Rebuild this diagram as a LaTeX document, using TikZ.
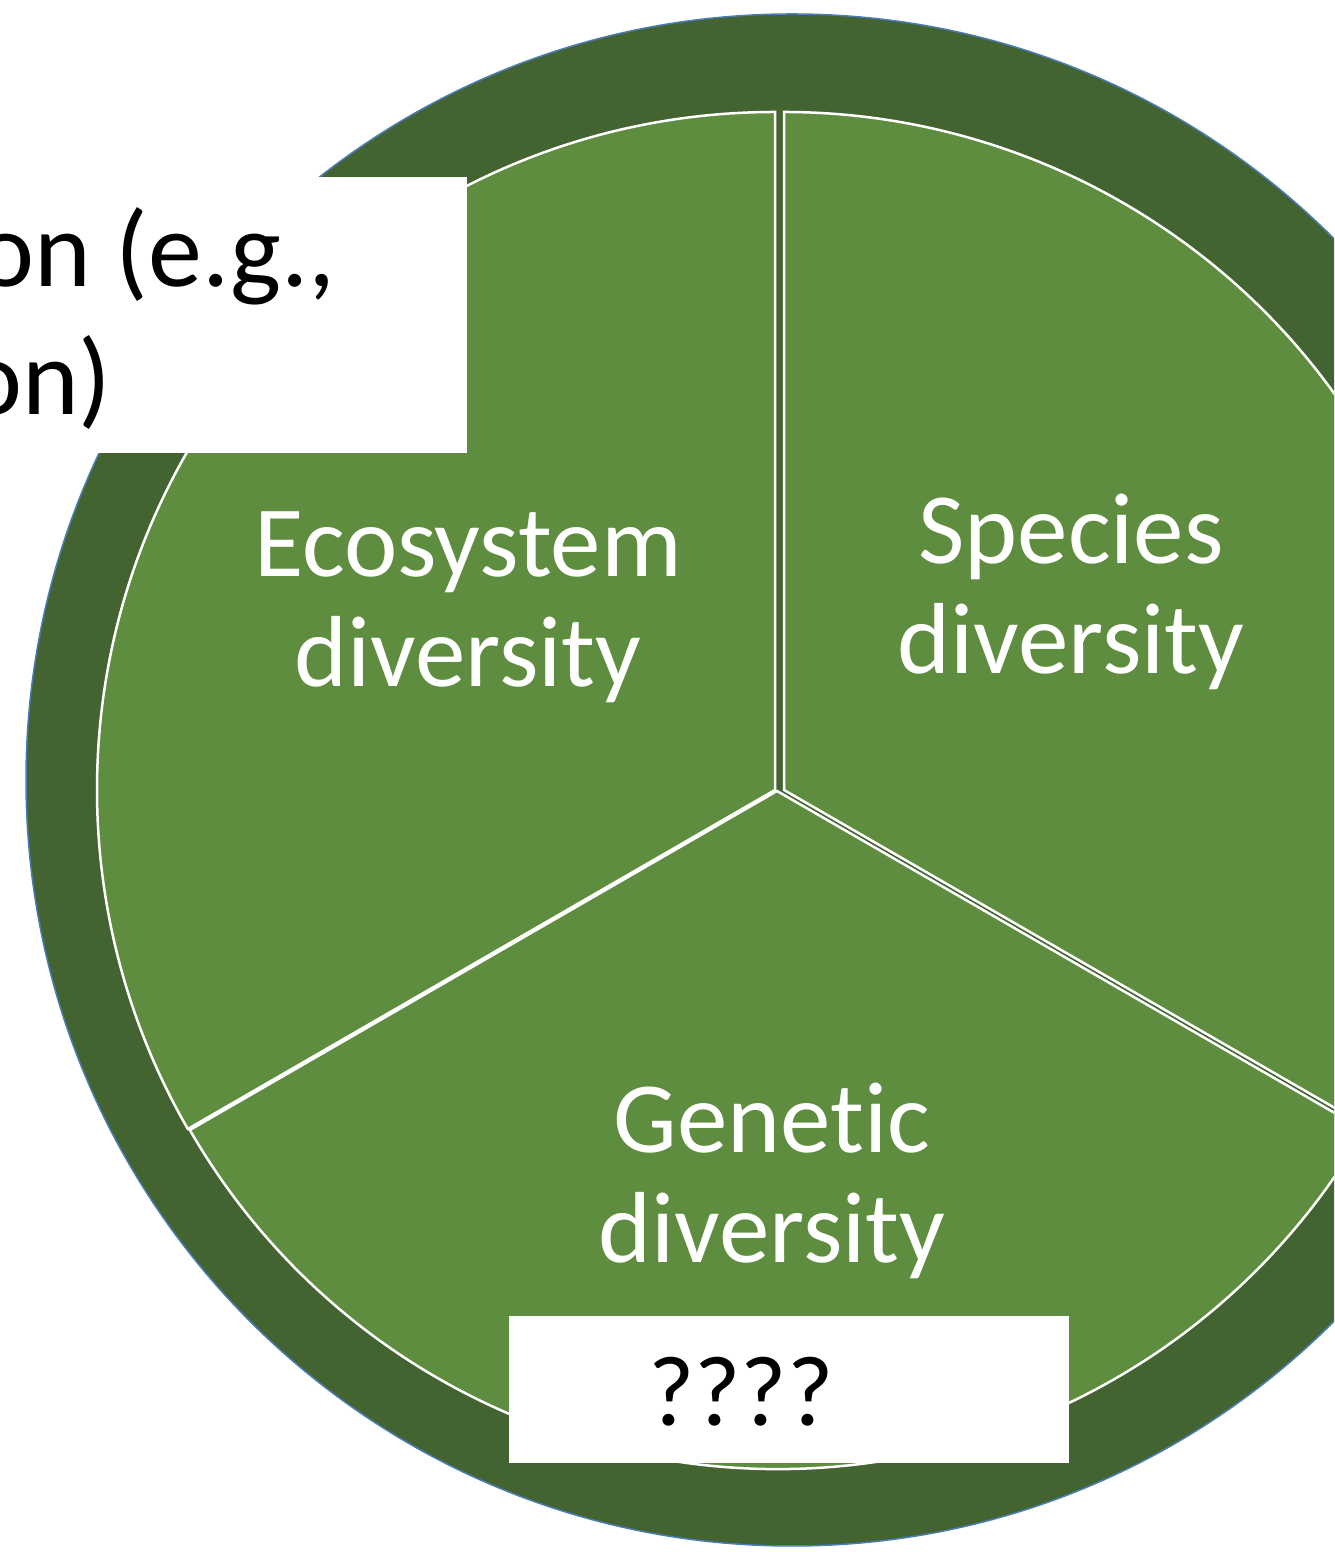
\documentclass[tikz,border=0pt]{standalone}
\usepackage{fontspec}
\setmainfont{Carlito}[Ligatures=NoCommon]
\usetikzlibrary{positioning}
\definecolor{ringgreen}{HTML}{436331}
\definecolor{slicegreen}{HTML}{5F8D3F}
\definecolor{ringedge}{HTML}{4A7DB5}
\tikzset
{
    ring/.style      = {fill=ringgreen, draw=ringedge, line width=1.5pt},
    slice/.style     = {fill=slicegreen, draw=white, line width=2.5pt, line join=miter},
    slicetext/.style = {text=white, align=center, inner sep=0pt, font=\fontsize{101}{110}\selectfont},
    notebox/.style   = {fill=white, draw=none},
    notetext/.style  = {text=black, inner sep=0pt, font=\fontsize{108}{128}\selectfont}
}

\begin{document}
\begin{tikzpicture}[x=1pt, y=1pt]
	\useasboundingbox (0,0) rectangle (1334,1552);
	\clip (0,0) rectangle (1334,1552);
	% outer ring
	\coordinate (ringc) at (792,772);
	\filldraw[ring] (ringc) circle[radius=766];
	% three slices
	\coordinate (eco) at (775,762);
	\coordinate (spe) at (784,762);
	\coordinate (gen) at (777,761);
	\filldraw[slice] (eco) -- ++(90:678) arc[start angle=90, end angle=210, radius=678] -- cycle;
	\filldraw[slice] (spe) -- ++(-30:678) arc[start angle=-30, end angle=90, radius=678] -- cycle;
	\filldraw[slice] (gen) -- ++(210:678) arc[start angle=210, end angle=330, radius=678] -- cycle;
	\node[slicetext] (ecotext) at (468,945) {Ecosystem\\diversity};
	\node[slicetext] (spetext) at (1071,960) {Species\\diversity};
	\node[slicetext] (gentext) at (772,371) {Genetic\\diversity};
	% white boxes on top
	\fill[notebox] (0,1099) rectangle (467,1375);
	\node[notetext, anchor=base east] (noteone) at (336,1265) {on (e.g.,};
	\node[notetext, anchor=base east] (notetwo) at (112,1137) {on)};
	\fill[notebox] (509,89) rectangle (1069,236);
	\node[notetext, anchor=base, font=\fontsize{100}{120}\selectfont] (quest) at (741,126) {????};
\end{tikzpicture}
\end{document}
